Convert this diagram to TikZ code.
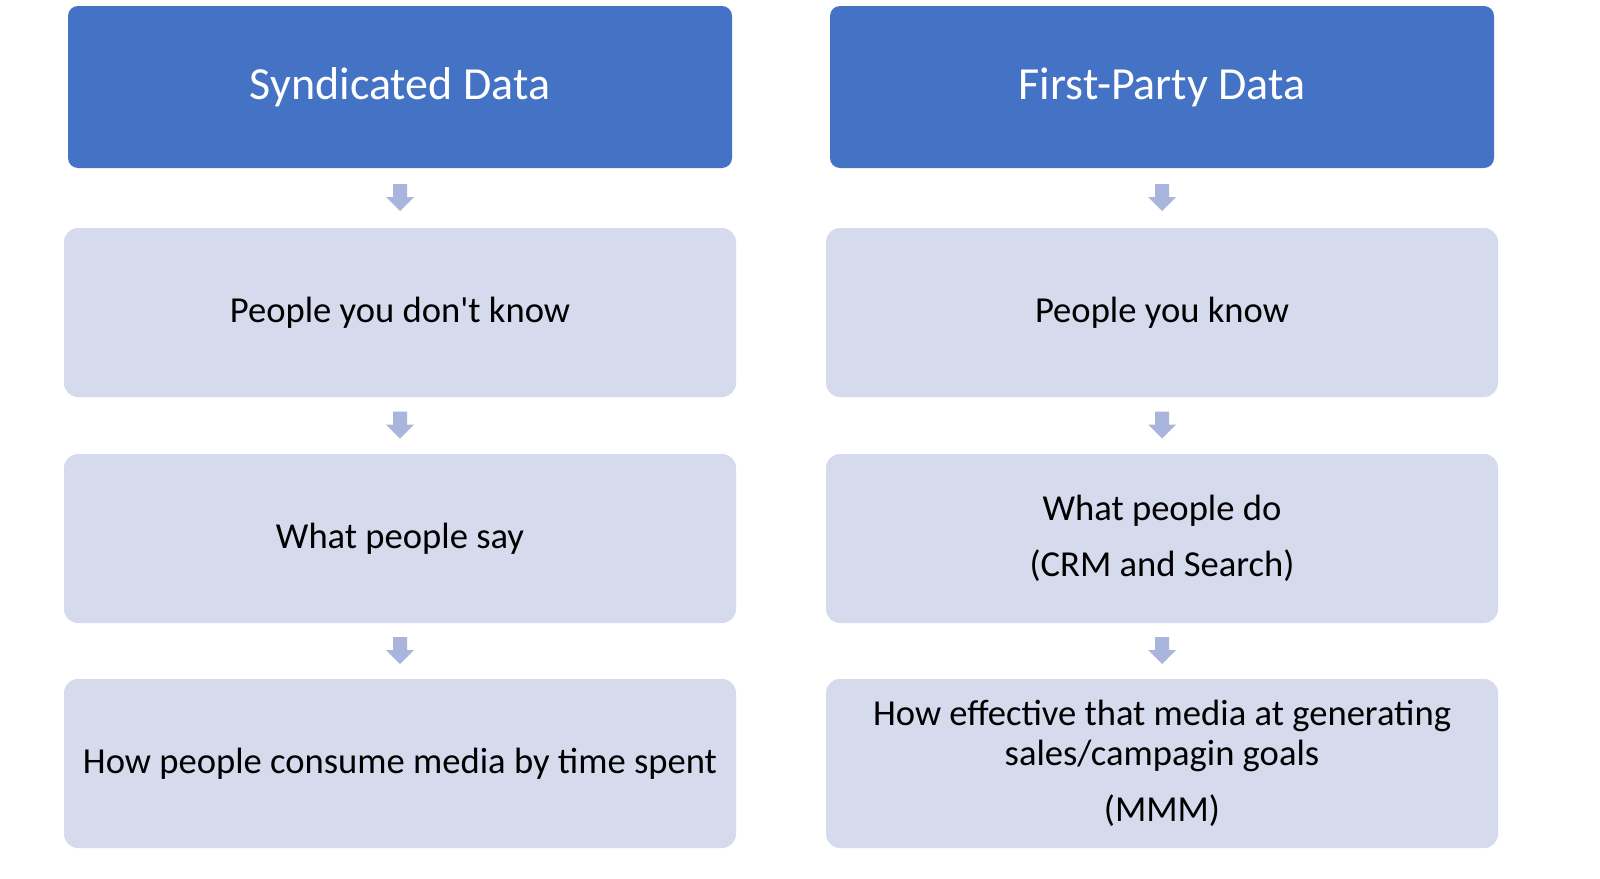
\documentclass[tikz,border=0pt]{standalone}
\usepackage{fontspec}
\setmainfont{Carlito}
\newfontfamily\plainfont[Ligatures=ResetAll]{Carlito}
\usetikzlibrary{calc}
\definecolor{hdr}{HTML}{4472C4}
\definecolor{lite}{HTML}{D5DAEC}
\definecolor{arr}{HTML}{A9B5DC}
\tikzset{
  hdrbox/.style={fill=hdr,rounded corners=5pt,minimum width=332pt,minimum height=81pt,text=white,font=\fontsize{23}{28}\selectfont,inner sep=0pt},
  litebox/.style={fill=lite,rounded corners=7pt,minimum width=336pt,minimum height=84.5pt,font=\fontsize{18.3}{20}\selectfont,align=center,inner sep=0pt},
  blockarrow/.style={fill=arr}
}
\newcommand{\barrow}[2]{%
  \path let \p1=($(#1.south)!0.5!(#2.north)$) in
    [blockarrow] (\x1-3.5,\y1+7) -- (\x1+3.5,\y1+7) -- (\x1+3.5,\y1+0.5) -- (\x1+7,\y1+0.5) -- (\x1,\y1-6.5) -- (\x1-7,\y1+0.5) -- (\x1-3.5,\y1+0.5) -- cycle;}
\begin{document}
\begin{tikzpicture}[x=0.5pt,y=-0.5pt]
\useasboundingbox (0,0) rectangle (1600,878);
\node[hdrbox] (h1) at (400,87) {Syndicated Data};
\node[hdrbox] (h2) at (1162,87) {First-Party Data};
\node[litebox] (a1) at (400,312.5) {\plainfont People you don't know};
\node[litebox] (a2) at (400,538.5) {What people say};
\node[litebox] (a3) at (400,763.5) {How people consume media by time spent};
\node[litebox] (b1) at (1162,312.5) {People you know};
\node[litebox] (b2) at (1162,538.5) {What people do\\[8pt](CRM and Search)};
\node[litebox] (b3) at (1162,763.5) {How effective that media at generating\\sales/campagin goals\\[8pt](MMM)};
\barrow{h1}{a1}\barrow{a1}{a2}\barrow{a2}{a3}
\barrow{h2}{b1}\barrow{b1}{b2}\barrow{b2}{b3}
\end{tikzpicture}
\end{document}
